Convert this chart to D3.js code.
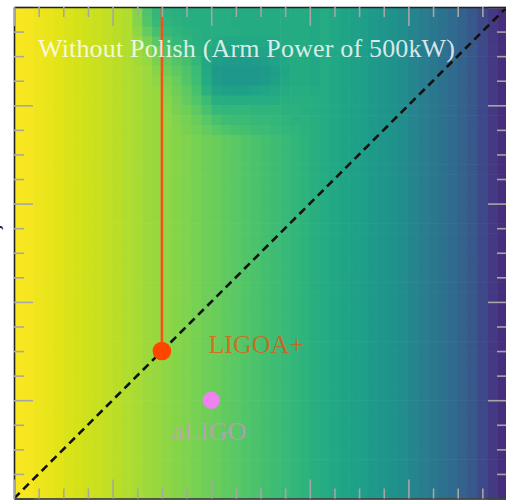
<!DOCTYPE html>
<html>
<head>
<meta charset="utf-8">
<script src="https://cdn.jsdelivr.net/npm/d3@7"></script>
<style>
body { margin: 0; background: #fff; }
svg { display: block; }
</style>
</head>
<body>
<svg id="chart" width="506" height="501"></svg>
<script>
// colour value of each column (left -> right)
var colValues = [
  0.99, 0.985, 0.975, 0.965, 0.955,
  0.945, 0.935, 0.925, 0.915, 0.905,
  0.895, 0.88, 0.87, 0.855, 0.845,
  0.83, 0.82, 0.805, 0.795, 0.78,
  0.77, 0.755, 0.745, 0.73, 0.715,
  0.70, 0.69, 0.675, 0.66, 0.645,
  0.63, 0.615, 0.60, 0.585, 0.57,
  0.555, 0.54, 0.52, 0.505, 0.485,
  0.45, 0.425, 0.40, 0.375, 0.345,
  0.31, 0.27, 0.22, 0.17, 0.13
];

// darker patch near the top, columns 12..30, rows 0..12 (top down)
var blobFirstCol = 12;
var blobRows = [
  [0.82, 0.72, 0.66, 0.64, 0.63, 0.62, 0.62, 0.62, 0.62, 0.62, 0.61, 0.61, 0.61, 0.61, 0.61, 0.61, 0.61, 0.61, 0.60],
  [0.82, 0.73, 0.67, 0.65, 0.64, 0.63, 0.62, 0.62, 0.62, 0.62, 0.61, 0.61, 0.61, 0.61, 0.61, 0.61, 0.61, 0.61, 0.60],
  [0.83, 0.76, 0.70, 0.67, 0.65, 0.64, 0.63, 0.62, 0.62, 0.62, 0.62, 0.61, 0.61, 0.61, 0.61, 0.61, 0.61, 0.61, 0.60],
  [0.85, 0.80, 0.74, 0.70, 0.67, 0.65, 0.63, 0.62, 0.61, 0.60, 0.60, 0.60, 0.60, 0.60, 0.60, 0.61, 0.61, 0.61, 0.60],
  [0.86, 0.83, 0.78, 0.73, 0.70, 0.67, 0.64, 0.61, 0.59, 0.58, 0.58, 0.58, 0.58, 0.58, 0.59, 0.60, 0.61, 0.61, 0.60],
  [0.86, 0.84, 0.80, 0.76, 0.73, 0.70, 0.66, 0.60, 0.56, 0.55, 0.55, 0.55, 0.55, 0.56, 0.58, 0.60, 0.61, 0.61, 0.60],
  [0.87, 0.85, 0.82, 0.78, 0.75, 0.72, 0.68, 0.60, 0.54, 0.53, 0.53, 0.53, 0.53, 0.54, 0.56, 0.59, 0.61, 0.61, 0.60],
  [0.87, 0.85, 0.83, 0.80, 0.77, 0.73, 0.69, 0.61, 0.55, 0.53, 0.53, 0.53, 0.53, 0.55, 0.57, 0.60, 0.61, 0.61, 0.60],
  [0.87, 0.85, 0.84, 0.81, 0.78, 0.75, 0.71, 0.64, 0.58, 0.57, 0.57, 0.57, 0.58, 0.59, 0.60, 0.61, 0.62, 0.62, 0.61],
  [0.87, 0.855, 0.84, 0.82, 0.79, 0.76, 0.73, 0.68, 0.63, 0.62, 0.62, 0.62, 0.62, 0.62, 0.62, 0.63, 0.63, 0.63, 0.62],
  [0.87, 0.855, 0.845, 0.825, 0.80, 0.78, 0.75, 0.71, 0.67, 0.66, 0.66, 0.66, 0.65, 0.65, 0.65, 0.64, 0.64, 0.63, 0.62],
  [0.87, 0.855, 0.845, 0.83, 0.81, 0.79, 0.77, 0.74, 0.71, 0.69, 0.68, 0.68, 0.67, 0.67, 0.66, 0.65, 0.64, 0.64, 0.63],
  [0.87, 0.855, 0.845, 0.83, 0.815, 0.80, 0.785, 0.76, 0.74, 0.72, 0.71, 0.70, 0.69, 0.68, 0.67, 0.66, 0.65, 0.64, 0.63]
];
var nRows = 50;

var majorTicks = [0, 1, 2, 3, 4, 5];
var minorTicks = [0.25, 0.5, 0.75, 1.25, 1.5, 1.75, 2.25, 2.5, 2.75, 3.25, 3.5, 3.75, 4.25, 4.5, 4.75];

var titleText = "Without Polish (Arm Power of 500kW)";
var detectors = [
  { name: "LIGOA+", x: 1.5, y: 1.5, color: "orangered", r: 9.3, dx: 46.5, dy: 1.5, alpha: 0.66 },
  { name: "aLIGO", x: 2.0, y: 1.0, color: "violet", r: 8.7, dx: -38.5, dy: 39.5, alpha: 0.58 }
];

var svg = d3.select("#chart");
var plotLeft = 14, plotRight = 507, plotTop = 7, plotBottom = 498.5;

var x = d3.scaleLinear().domain([0, 5]).range([plotLeft, plotRight]);
var y = d3.scaleLinear().domain([0, 5]).range([plotBottom, plotTop]);
var colBand = d3.scaleBand().domain(d3.range(colValues.length)).range([plotLeft, plotRight]);
var rowBand = d3.scaleBand().domain(d3.range(nRows)).range([plotTop, plotBottom]);

function cellValue(r, c) {
  var bc = c - blobFirstCol;
  if (r < blobRows.length && bc >= 0 && bc < blobRows[r].length) return blobRows[r][bc];
  return colValues[c];
}

var cells = [];
for (var r = 0; r < nRows; r++) {
  for (var c = 0; c < colValues.length; c++) {
    cells.push({ r: r, c: c, v: cellValue(r, c) });
  }
}

svg.append("clipPath").attr("id", "plotclip")
  .append("rect").attr("x", plotLeft).attr("y", plotTop)
  .attr("width", plotRight - plotLeft).attr("height", plotBottom - plotTop);

var plot = svg.append("g").attr("clip-path", "url(#plotclip)");

plot.selectAll("rect.cell")
  .data(cells)
  .enter()
  .append("rect")
  .attr("class", "cell")
  .attr("x", function (d) { return colBand(d.c); })
  .attr("y", function (d) { return rowBand(d.r); })
  .attr("width", colBand.bandwidth() + 0.6)
  .attr("height", rowBand.bandwidth() + 0.6)
  .attr("fill", function (d) { return d3.interpolateViridis(d.v); });

// vertical line up from LIGOA+
plot.append("line")
  .attr("x1", x(detectors[0].x)).attr("x2", x(detectors[0].x))
  .attr("y1", plotTop).attr("y2", y(detectors[0].y))
  .attr("stroke", "#f2501c")
  .attr("stroke-width", 2.5);

// diagonal
plot.append("line")
  .attr("x1", x(0)).attr("y1", y(0))
  .attr("x2", x(5)).attr("y2", y(5))
  .attr("stroke", "#111")
  .attr("stroke-width", 2.6)
  .attr("stroke-dasharray", "8,5");

plot.selectAll("circle.det")
  .data(detectors)
  .enter()
  .append("circle")
  .attr("class", "det")
  .attr("cx", function (d) { return x(d.x); })
  .attr("cy", function (d) { return y(d.y); })
  .attr("r", function (d) { return d.r; })
  .attr("fill", function (d) { return d.color; });

plot.selectAll("text.det")
  .data(detectors)
  .enter()
  .append("text")
  .attr("class", "det")
  .attr("x", function (d) { return x(d.x) + d.dx; })
  .attr("y", function (d) { return y(d.y) + d.dy; })
  .attr("font-family", "Liberation Serif, serif")
  .attr("font-size", 26)
  .attr("fill", function (d) { return d.color; })
  .attr("fill-opacity", function (d) { return d.alpha; })
  .text(function (d) { return d.name; });

plot.append("text")
  .attr("x", 38)
  .attr("y", 57)
  .attr("font-family", "Liberation Serif, serif")
  .attr("font-size", 26)
  .attr("textLength", 417)
  .attr("fill", "#fff")
  .attr("fill-opacity", 0.82)
  .text(titleText);

// inward ticks on all four sides
function addAxis(axisFn, transform, values, size, showDomain) {
  var g = svg.append("g")
    .attr("transform", transform)
    .call(axisFn.tickValues(values).tickSize(-size).tickSizeOuter(0).tickFormat(""));
  g.selectAll(".tick line").attr("stroke", "#a6a6a6").attr("stroke-width", 1.6);
  if (showDomain) g.select(".domain").attr("stroke", "#222").attr("stroke-width", 1.6);
  else g.select(".domain").remove();
}

addAxis(d3.axisLeft(y), "translate(" + plotLeft + ",0)", majorTicks, 19, true);
addAxis(d3.axisLeft(y), "translate(" + plotLeft + ",0)", minorTicks, 10, false);
addAxis(d3.axisRight(y), "translate(" + plotRight + ",0)", majorTicks, 19, false);
addAxis(d3.axisRight(y), "translate(" + plotRight + ",0)", minorTicks, 10, false);
addAxis(d3.axisTop(x), "translate(0," + plotTop + ")", majorTicks, 19, true);
addAxis(d3.axisTop(x), "translate(0," + plotTop + ")", minorTicks, 10, false);
addAxis(d3.axisBottom(x), "translate(0," + plotBottom + ")", majorTicks, 19, true);
addAxis(d3.axisBottom(x), "translate(0," + plotBottom + ")", minorTicks, 10, false);

// clipped y label at the left edge
svg.append("text")
  .attr("transform", "translate(-1,236) rotate(-90)")
  .attr("font-family", "DejaVu Serif, serif")
  .attr("font-size", 20)
  .attr("fill", "#222")
  .text("ζ");
</script>
</body>
</html>
